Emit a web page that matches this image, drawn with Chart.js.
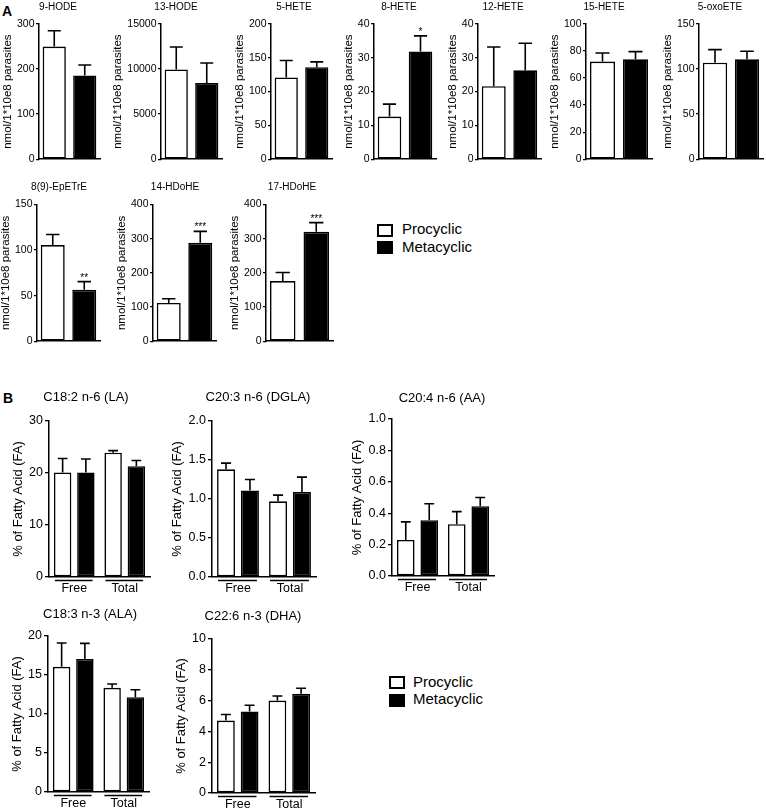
<!DOCTYPE html>
<html><head><meta charset="utf-8">
<script src="https://cdn.jsdelivr.net/npm/chart.js@4/dist/chart.umd.min.js"></script>
<style>
html,body{margin:0;padding:0;background:#fff;}
body{width:766px;height:812px;position:relative;overflow:hidden;font-family:"Liberation Sans",Arial,sans-serif;color:#000;}
canvas{position:absolute;}
.panel{position:absolute;font-weight:bold;font-size:14px;line-height:14px;}
.legtxt{position:absolute;font-size:15px;line-height:15px;white-space:nowrap;}
.legbox{position:absolute;width:16px;height:13px;box-sizing:border-box;border:2px solid #000;}
</style></head><body>
<div class="panel" style="left:2px;top:4px;">A</div>
<div class="panel" style="left:3px;top:391px;">B</div>

<div class="legbox" style="left:377px;top:223.5px;background:#fff;"></div>
<div class="legbox" style="left:377px;top:241px;background:#000;"></div>
<div class="legtxt" style="left:402px;top:221.4px;">Procyclic</div>
<div class="legtxt" style="left:402px;top:238.7px;">Metacyclic</div>

<div class="legbox" style="left:389px;top:675.5px;background:#fff;"></div>
<div class="legbox" style="left:389px;top:693.5px;background:#000;"></div>
<div class="legtxt" style="left:413px;top:673.7px;">Procyclic</div>
<div class="legtxt" style="left:413px;top:691.2px;">Metacyclic</div>

<script>
// ---------- Panel A data (nmol/1*10e8 parasites) ----------
const A_NAMES = ['9-HODE','13-HODE','5-HETE','8-HETE','12-HETE','15-HETE','5-oxoETE','8(9)-EpETrE','14-HDoHE','17-HDoHE'];
const A_PROCYCLIC     = [250, 9950, 121, 12.6, 21.6, 72.2, 107, 105.5, 112, 176];
const A_PROCYCLIC_ERR = [35, 2500, 25, 3.7, 11.6, 6.4, 14.6, 11.5, 12, 25];
const A_METACYCLIC     = [186, 8450, 136, 31.9, 26.3, 73.9, 110.8, 56.4, 288, 320];
const A_METACYCLIC_ERR = [23, 2230, 8, 4.6, 8, 5.7, 9, 9, 33.5, 27];
const A_STARS = ['', '', '', '*', '', '', '', '**', '***', '***'];
const A_YMAX  = [300, 15000, 200, 40, 40, 100, 150, 150, 400, 400];
const A_YSTEP = [100, 5000, 50, 10, 10, 20, 50, 50, 100, 100];
const A_BARS  = ['Procyclic', 'Metacyclic'];
const A_YTITLE = 'nmol/1*10e8 parasites';

// ---------- Panel B data (% of Fatty Acid) ----------
const B_NAMES  = ['C18:2 n-6 (LA)','C20:3 n-6 (DGLA)','C20:4 n-6 (AA)','C18:3 n-3 (ALA)','C22:6 n-3 (DHA)'];
const B_GROUPS = ['Free','Total'];
const B_PROCYCLIC      = [[20.1, 23.9], [1.38, 0.97], [0.23, 0.33], [16.05, 13.35], [4.7, 6.0]];
const B_PROCYCLIC_ERR  = [[2.7, 0.4], [0.08, 0.08], [0.115, 0.08], [3.05, 0.5], [0.4, 0.3]];
const B_METACYCLIC     = [[20.1, 21.3], [1.11, 1.09], [0.355, 0.445], [17.05, 12.15], [5.3, 6.45]];
const B_METACYCLIC_ERR = [[2.6, 1.1], [0.14, 0.19], [0.105, 0.055], [2.0, 0.95], [0.4, 0.35]];
const B_YMAX  = [30, 2.0, 1.0, 20, 10];
const B_YSTEP = [10, 0.5, 0.2, 5, 2];
const B_YTITLE = '% of Fatty Acid (FA)';

// ---------- Layout (page pixels): [axisX, plotW, plotTop, plotBottom, titleX, titleY]
const A_LAYOUT = [
  [39, 61, 24, 163, 58, 7],
  [161, 61, 24, 163, 176, 7],
  [271, 61, 24, 163, 294, 7],
  [374, 62, 24, 163, 399, 7],
  [478, 63, 24, 163, 503, 7],
  [586, 66, 24, 163, 604, 7],
  [699, 64, 24, 163, 720, 7],
  [37, 63, 204.5, 344.5, 59, 187.5],
  [153, 63, 204.5, 344.5, 175, 187.5],
  [266, 67, 204.5, 344.5, 292, 187.5]
];
const B_LAYOUT = [
  [49, 101, 421, 577, 86, 397],
  [212, 104, 421, 577, 258, 397],
  [392, 102, 419, 576, 442, 398],
  [48, 101, 636, 792, 90, 614],
  [212, 103, 639, 793, 253, 616]
];
const LEFT_ROOM = 70;

const FONT = '"Liberation Sans", Arial, sans-serif';
Chart.defaults.font.family = FONT;
Chart.defaults.color = '#000';

const errPlugin = {
  id: 'errBars',
  afterDatasetsDraw(chart) {
    const ctx = chart.ctx, ys = chart.scales.y;
    chart.data.datasets.forEach((ds, di) => {
      const meta = chart.getDatasetMeta(di);
      meta.data.forEach((bar, i) => {
        const v = ds.data[i], e = ds.errors ? ds.errors[i] : 0;
        if (v == null) return;
        const yBar = ys.getPixelForValue(v);
        const yTop = ys.getPixelForValue(v + (e || 0));
        ctx.save();
        ctx.strokeStyle = '#000';
        ctx.lineWidth = 1.6;
        if (e) {
          const cap = bar.width * 0.28;
          ctx.beginPath();
          ctx.moveTo(bar.x, yBar); ctx.lineTo(bar.x, yTop);
          ctx.moveTo(bar.x - cap, yTop); ctx.lineTo(bar.x + cap, yTop);
          ctx.stroke();
        }
        if (ds.stars && ds.stars[i]) {
          ctx.fillStyle = '#000';
          ctx.font = '10px ' + FONT;
          ctx.textAlign = 'center';
          ctx.textBaseline = 'alphabetic';
          ctx.fillText(ds.stars[i], bar.x, yTop - 1);
        }
        ctx.restore();
      });
    });
  }
};

const titlePlugin = {
  id: 'subTitle',
  afterDraw(chart, args, o) {
    if (!o || !o.text) return;
    const ctx = chart.ctx;
    ctx.save();
    ctx.fillStyle = '#000';
    ctx.font = o.size + 'px ' + FONT;
    ctx.textAlign = 'center';
    ctx.textBaseline = 'middle';
    ctx.fillText(o.text, o.x, o.y);
    ctx.restore();
  }
};

const groupPlugin = {
  id: 'groupLines',
  afterDraw(chart, args, o) {
    if (!o || !o.show) return;
    const ctx = chart.ctx;
    const m0 = chart.getDatasetMeta(0), m1 = chart.getDatasetMeta(1);
    const y = chart.chartArea.bottom + 3.5;
    ctx.save();
    ctx.strokeStyle = '#000';
    ctx.lineWidth = 1.5;
    chart.data.labels.forEach((lab, i) => {
      const b0 = m0.data[i], b1 = m1.data[i];
      ctx.beginPath();
      ctx.moveTo(b0.x - b0.width / 2 + 1, y);
      ctx.lineTo(b1.x + b1.width / 2 - 2, y);
      ctx.stroke();
    });
    ctx.restore();
  }
};

function makeChart(o) {
  const c = document.createElement('canvas');
  const left = o.axisX - LEFT_ROOM;
  const top = Math.round(o.titleY - 10);
  const padTop = o.plotTop - top;
  const w = Math.ceil(LEFT_ROOM + o.plotW + 4);
  const h = Math.ceil(o.plotBottom - top + o.bottomH + 4);
  c.width = w; c.height = h;
  c.style.left = left + 'px'; c.style.top = top + 'px';
  c.style.width = w + 'px'; c.style.height = h + 'px';
  document.body.appendChild(c);
  const chart = new Chart(c, {
    type: 'bar',
    data: { labels: o.labels, datasets: o.datasets },
    options: {
      responsive: false, animation: false, devicePixelRatio: 1, events: [],
      layout: { padding: { top: padTop, left: 0, right: 4, bottom: h - (o.plotBottom - top) - o.bottomH } },
      plugins: {
        legend: { display: false }, tooltip: { enabled: false },
        subTitle: { text: o.title, x: o.titleX - left, y: o.titleY - top, size: o.titleSize },
        groupLines: { show: o.groups }
      },
      scales: {
        x: {
          grid: { display: false, drawTicks: false },
          border: { display: true, color: '#000', width: 1.5 },
          ticks: { display: o.groups, font: { size: 12.5 }, color: '#000', padding: 4, maxRotation: 0, autoSkip: false },
          afterFit(s) { s.height = o.bottomH; }
        },
        y: {
          min: 0, max: o.max,
          ticks: {
            stepSize: o.step, font: { size: o.tickSize }, color: '#000', padding: o.tickPad,
            callback: v => o.decimals ? Number(v).toFixed(o.decimals) : String(v)
          },
          grid: { display: true, drawOnChartArea: false, drawTicks: true, tickLength: o.tickLen, color: '#000', lineWidth: 1.3 },
          border: { display: true, color: '#000', width: 1.5 },
          title: { display: true, text: o.yTitle, font: { size: o.yTitleSize }, color: '#000', padding: { top: 0, bottom: 1 } }
        }
      }
    },
    plugins: [errPlugin, titlePlugin, groupPlugin]
  });
  // shift the plot so the y axis lands at axisX (library computes the axis width)
  const natural = chart.chartArea.left;
  chart.options.layout.padding.left = LEFT_ROOM - natural;
  chart.update('none');
}

// Panel A charts
A_NAMES.forEach((name, i) => {
  const L = A_LAYOUT[i];
  makeChart({
    axisX: L[0], plotW: L[1], plotTop: L[2], plotBottom: L[3], titleX: L[4], titleY: L[5],
    title: name, titleSize: 10, yTitle: A_YTITLE, yTitleSize: 11.5,
    tickSize: 10.5, tickPad: 1.5, tickLen: 3, bottomH: 0, groups: false,
    max: A_YMAX[i], step: A_YSTEP[i], decimals: 0,
    labels: A_BARS,
    datasets: [{
      data: [A_PROCYCLIC[i], A_METACYCLIC[i]],
      errors: [A_PROCYCLIC_ERR[i], A_METACYCLIC_ERR[i]],
      stars: ['', A_STARS[i]],
      backgroundColor: ['#ffffff', '#000000'],
      borderColor: '#000', borderWidth: 1.6, borderSkipped: false,
      categoryPercentage: 1.0, barPercentage: 0.76
    }]
  });
});

// Panel B charts
B_NAMES.forEach((name, i) => {
  const L = B_LAYOUT[i];
  const dec = B_YSTEP[i] < 1 ? 1 : 0;
  makeChart({
    axisX: L[0], plotW: L[1], plotTop: L[2], plotBottom: L[3], titleX: L[4], titleY: L[5],
    title: name, titleSize: 13, yTitle: B_YTITLE, yTitleSize: 13,
    tickSize: 12.5, tickPad: 2, tickLen: 4, bottomH: 20, groups: true,
    max: B_YMAX[i], step: B_YSTEP[i], decimals: dec,
    labels: B_GROUPS,
    datasets: [
      { label: 'Procyclic', data: B_PROCYCLIC[i], errors: B_PROCYCLIC_ERR[i],
        backgroundColor: '#ffffff', borderColor: '#000', borderWidth: 1.6, borderSkipped: false,
        categoryPercentage: 0.92, barPercentage: 0.75 },
      { label: 'Metacyclic', data: B_METACYCLIC[i], errors: B_METACYCLIC_ERR[i],
        backgroundColor: '#000000', borderColor: '#000', borderWidth: 1.6, borderSkipped: false,
        categoryPercentage: 0.92, barPercentage: 0.75 }
    ]
  });
});
</script>
</body></html>
